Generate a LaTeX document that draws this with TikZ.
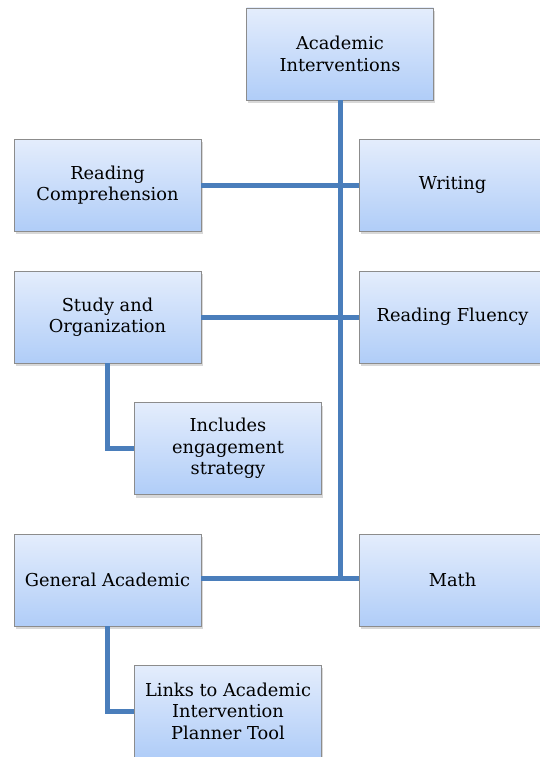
\documentclass[tikz,border=0pt]{standalone}
\usepackage{fontspec}
\setmainfont{DejaVu Serif}
\usetikzlibrary{shadows}

\definecolor{linkblue}{RGB}{74,126,187}
\definecolor{boxtop}{RGB}{228,237,252}
\definecolor{boxbottom}{RGB}{176,205,248}
\definecolor{boxedge}{RGB}{140,140,140}

\tikzset{
  item/.style={draw=boxedge, line width=0.8pt, top color=boxtop, bottom color=boxbottom,
    minimum width=187pt, minimum height=92pt, align=center, inner sep=2pt,
    drop shadow={shadow xshift=1.5pt, shadow yshift=-3pt, fill=black!30},
    font=\fontsize{17.8}{21.5}\selectfont},
  link/.style={draw=linkblue, line width=5pt}
}

\begin{document}
\begin{tikzpicture}[x=1pt, y=-1pt]
        \useasboundingbox (0,0) rectangle (540,757);
        \clip (0,0) rectangle (540,757);
        % boxes
        \node[item] (top) at (340,54) {Academic\\Interventions};
        \node[item] (comp) at (107.5,185) {Reading\\Comprehension};
        \node[item] (writ) at (452.5,185) {Writing};
        \node[item] (study) at (107.5,317) {Study and\\Organization};
        \node[item] (flu) at (452.5,317) {Reading Fluency};
        \node[item] (engage) at (228,448.5) {Includes\\engagement\\strategy};
        \node[item] (gen) at (107.5,580) {General Academic};
        \node[item] (math) at (452.5,580) {Math};
        \node[item] (tool) at (228,711) {Links to Academic\\Intervention\\Planner Tool};
        % connectors
        \coordinate (spine) at (340,578);
        \draw[link] (top.south) -- (spine);
        \draw[link] (comp.east) -- (writ.west);
        \draw[link] (study.east) -- (flu.west);
        \draw[link] (gen.east |- spine) -- (math.west |- spine);
        \draw[link] (study.south) |- (engage.west);
        \draw[link] (gen.south) |- (tool.west);
      \end{tikzpicture}
\end{document}
